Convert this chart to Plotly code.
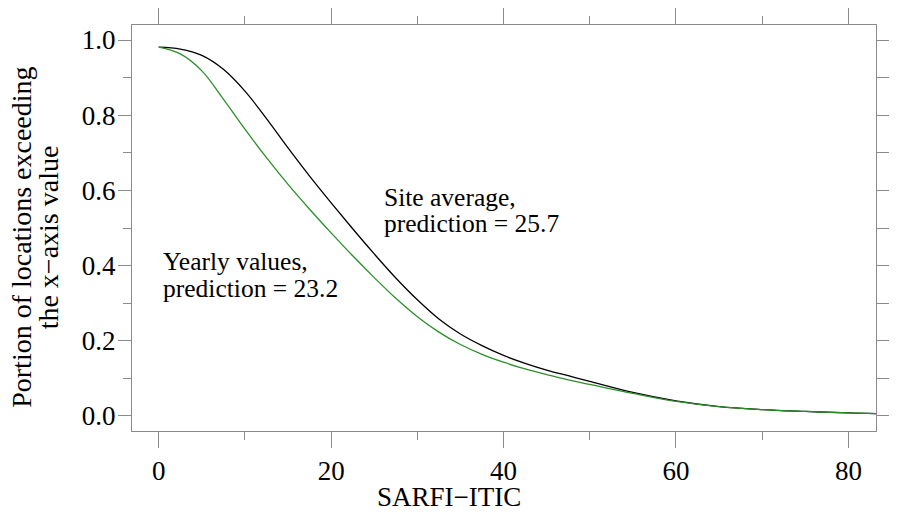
import plotly.graph_objects as go

# SARFI-ITIC values (x) and portion of locations exceeding (y)
x_vals = [0, 2.5, 5, 7.5, 10, 12.5, 15, 17.5, 20, 22.5, 25, 27.5, 30, 32.5, 35,
          37.5, 40, 42.5, 45, 47.5, 50, 55, 60, 65, 70, 75, 80, 83.2]
site_avg = [0.981, 0.976, 0.959, 0.922, 0.864, 0.791, 0.713, 0.638, 0.567, 0.498,
            0.431, 0.367, 0.309, 0.258, 0.218, 0.187, 0.161, 0.140, 0.122, 0.107,
            0.092, 0.0625, 0.040, 0.025, 0.017, 0.012, 0.008, 0.0064]
yearly = [0.981, 0.963, 0.918, 0.843, 0.763, 0.687, 0.616, 0.550, 0.487, 0.426,
          0.368, 0.313, 0.264, 0.223, 0.190, 0.164, 0.143, 0.125, 0.110, 0.096,
          0.084, 0.060, 0.0386, 0.025, 0.017, 0.012, 0.008, 0.0064]

x_ticks = [0, 20, 40, 60, 80]
x_minor = [10, 30, 50, 70]
y_ticks = [0.0, 0.2, 0.4, 0.6, 0.8, 1.0]
y_tick_labels = ["0.0", "0.2", "0.4", "0.6", "0.8", "1.0"]
y_minor = [0.1, 0.3, 0.5, 0.7, 0.9]
y_all = [0.0, 0.1, 0.2, 0.3, 0.4, 0.5, 0.6, 0.7, 0.8, 0.9, 1.0]

x_range = [-3.1, 83.2]
y_range = [-0.04, 1.04]

FONT = "Liberation Serif"
GRAY = "#8a8a8a"
TICK_FS = 27
ANN_FS = 25.5

fig = go.Figure()
fig.add_trace(go.Scatter(x=x_vals, y=site_avg, mode="lines",
                         line=dict(color="#000000", width=1.3, shape="spline"),
                         showlegend=False, hoverinfo="skip"))
fig.add_trace(go.Scatter(x=x_vals, y=yearly, mode="lines",
                         line=dict(color="#2a8f2a", width=1.3, shape="spline"),
                         showlegend=False, hoverinfo="skip"))
# invisible trace to activate top/right axes
fig.add_trace(go.Scatter(x=[x_vals[0]], y=[site_avg[0]], xaxis="x2", yaxis="y2",
                         mode="markers", marker=dict(opacity=0), showlegend=False,
                         hoverinfo="skip"))

fig.update_layout(
    width=897, height=523,
    margin=dict(l=132, r=9, t=25, b=92),
    paper_bgcolor="white", plot_bgcolor="white",
    font=dict(family=FONT, size=TICK_FS, color="black"),
    xaxis=dict(range=x_range, tickvals=x_ticks, ticktext=[str(v) for v in x_ticks],
               ticks="outside", ticklen=16, tickcolor=GRAY, tickwidth=1,
               showline=True, linecolor=GRAY, linewidth=1, showgrid=False, zeroline=False,
               minor=dict(tickvals=x_minor, ticks="outside", ticklen=8,
                          tickcolor=GRAY, tickwidth=1, showgrid=False),
               tickfont=dict(family=FONT, size=TICK_FS, color="black")),
    xaxis2=dict(range=x_range, overlaying="x", side="top", tickvals=x_ticks,
                showticklabels=False, ticks="outside", ticklen=16, tickcolor=GRAY,
                showline=True, linecolor=GRAY, linewidth=1, showgrid=False, zeroline=False,
                minor=dict(tickvals=x_minor, ticks="outside", ticklen=8,
                           tickcolor=GRAY, showgrid=False)),
    yaxis=dict(range=y_range, tickvals=y_ticks, ticktext=y_tick_labels,
               ticks="outside", ticklen=13, tickcolor=GRAY, tickwidth=1,
               ticklabelstandoff=-3,
               showline=True, linecolor=GRAY, linewidth=1, showgrid=False, zeroline=False,
               minor=dict(tickvals=y_minor, ticks="outside", ticklen=8,
                          tickcolor=GRAY, showgrid=False),
               tickfont=dict(family=FONT, size=TICK_FS, color="black")),
    yaxis2=dict(range=y_range, overlaying="y", side="right",
                tickvals=y_all,
                showticklabels=False, ticks="outside", ticklen=12, tickcolor=GRAY,
                showline=True, linecolor=GRAY, linewidth=1, showgrid=False, zeroline=False),
)

def px_to_paper_x(px):
    return (px - 132) / 756.0

def px_to_paper_y(py):
    return (431 - py) / 406.0

anns = [
    dict(text="SARFI\u2212ITIC", x=px_to_paper_x(454), y=px_to_paper_y(497), size=27),
    dict(text="Portion of locations exceeding", x=px_to_paper_x(19), y=px_to_paper_y(237),
         textangle=-90, size=28),
    dict(text="the x\u2212axis value", x=px_to_paper_x(47), y=px_to_paper_y(237),
         textangle=-90, size=28),
]
for a in anns:
    size = a.pop("size")
    fig.add_annotation(xref="paper", yref="paper", showarrow=False,
                       xanchor="center", yanchor="middle",
                       font=dict(family=FONT, size=size, color="black"), **a)

labels = [
    ("Site average,", 25.9, 0.582),
    ("prediction = 25.7", 25.9, 0.511),
    ("Yearly values,", 0.27, 0.412),
    ("prediction = 23.2", 0.27, 0.338),
]
for t, xx, yy in labels:
    fig.add_annotation(x=xx, y=yy, xref="x", yref="y", text=t, showarrow=False,
                       xanchor="left", yanchor="middle",
                       font=dict(family=FONT, size=ANN_FS, color="black"))

fig.write_html("out.html")
